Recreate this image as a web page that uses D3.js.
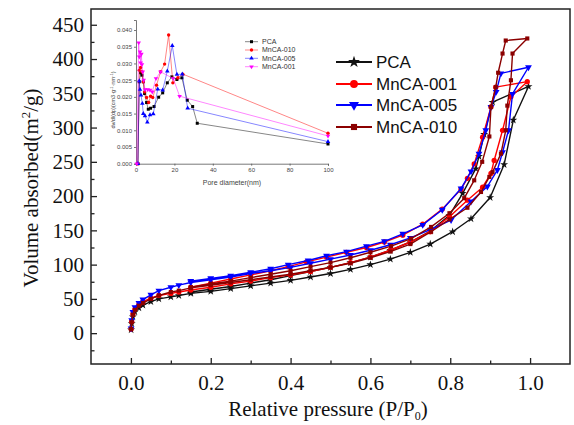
<!DOCTYPE html>
<html>
<head>
<meta charset="utf-8">
<script src="https://cdn.jsdelivr.net/npm/d3@7"></script>
<style>
  body { margin: 0; background: #fff; }
  svg { display: block; }
</style>
</head>
<body>
<div id="content"></div>
<script>
// Isotherms: [P/P0, volume] -- adsorption branch going up, then desorption going back.
var seriesNames = ["PCA", "MnCA-001", "MnCA-005", "MnCA-010"];
var seriesColors = ["#111111", "#ff0000", "#0000ff", "#8b0000"];

var pcaIsotherm = [
  [0.0005, 5], [0.002, 14], [0.005, 24], [0.01, 31], [0.02, 37], [0.03, 41], [0.05, 46],
  [0.07, 50], [0.1, 53], [0.12, 55], [0.15, 58], [0.2, 61], [0.25, 65], [0.3, 69],
  [0.35, 73], [0.4, 77], [0.45, 82], [0.5, 87], [0.55, 93], [0.6, 100], [0.65, 108],
  [0.7, 118], [0.75, 130], [0.806, 148], [0.852, 167], [0.9, 198], [0.935, 246],
  [0.958, 311], [0.996, 360],
  [0.906, 337], [0.885, 290], [0.872, 258], [0.864, 240], [0.831, 204], [0.798, 172],
  [0.75, 149], [0.7, 133], [0.65, 121], [0.6, 111], [0.55, 103], [0.5, 96], [0.45, 90],
  [0.4, 84], [0.35, 78], [0.3, 73], [0.25, 68], [0.2, 64], [0.15, 60]
];
var mnca001Isotherm = [
  [0.0005, 6], [0.002, 17], [0.005, 28], [0.01, 35], [0.02, 42], [0.03, 46], [0.05, 51],
  [0.07, 55], [0.1, 58], [0.12, 60], [0.15, 63], [0.2, 67], [0.25, 72], [0.3, 76],
  [0.35, 81], [0.4, 85], [0.45, 90], [0.5, 96], [0.55, 103], [0.6, 111], [0.65, 121],
  [0.7, 133], [0.75, 148], [0.798, 170], [0.843, 194], [0.881, 213], [0.902, 233],
  [0.91, 252], [0.931, 296], [0.952, 345], [0.993, 367],
  [0.914, 359], [0.902, 330], [0.881, 286], [0.86, 247], [0.843, 226], [0.827, 210],
  [0.78, 181], [0.731, 159], [0.681, 143], [0.635, 133], [0.59, 125], [0.54, 118],
  [0.49, 111], [0.44, 104], [0.394, 97], [0.35, 91], [0.3, 85], [0.25, 79], [0.2, 73],
  [0.15, 67]
];
var mnca005Isotherm = [
  [0.0005, 7], [0.002, 19], [0.005, 31], [0.01, 38], [0.02, 44], [0.03, 49], [0.05, 56],
  [0.07, 62], [0.1, 67], [0.12, 70], [0.15, 74], [0.2, 78], [0.25, 82], [0.3, 87],
  [0.35, 91], [0.4, 96], [0.45, 102], [0.5, 108], [0.55, 114], [0.6, 121], [0.65, 129],
  [0.7, 139], [0.75, 151], [0.802, 165], [0.852, 192], [0.893, 214], [0.918, 238],
  [0.931, 264], [0.946, 296], [0.956, 349], [0.996, 388],
  [0.927, 379], [0.915, 352], [0.902, 330], [0.889, 296], [0.872, 262], [0.852, 236],
  [0.827, 211], [0.78, 180], [0.731, 158], [0.681, 145], [0.635, 134], [0.59, 127],
  [0.54, 119], [0.49, 113], [0.444, 106], [0.394, 100], [0.35, 94], [0.3, 89],
  [0.25, 84], [0.2, 80], [0.15, 76]
];
var mnca010Isotherm = [
  [0.0005, 6], [0.002, 16], [0.005, 27], [0.01, 34], [0.02, 40], [0.03, 44], [0.05, 50],
  [0.07, 55], [0.1, 60], [0.12, 62], [0.15, 66], [0.2, 70], [0.25, 74], [0.3, 78],
  [0.35, 82], [0.4, 86], [0.45, 91], [0.5, 96], [0.55, 102], [0.6, 110], [0.65, 119],
  [0.7, 130], [0.752, 148], [0.798, 166], [0.843, 183], [0.877, 206], [0.898, 228],
  [0.906, 235], [0.927, 262], [0.939, 296], [0.943, 332], [0.952, 369], [0.956, 408],
  [0.993, 430],
  [0.939, 427], [0.931, 408], [0.92, 380], [0.914, 359], [0.902, 330], [0.898, 287],
  [0.88, 250], [0.86, 223], [0.835, 197], [0.798, 175], [0.752, 155], [0.702, 138],
  [0.652, 127], [0.6, 118], [0.55, 110], [0.5, 103], [0.45, 97], [0.4, 91], [0.35, 86],
  [0.3, 81], [0.25, 76], [0.2, 72], [0.15, 67]
];
var isotherms = [pcaIsotherm, mnca001Isotherm, mnca005Isotherm, mnca010Isotherm];

var xMajorTicks = [0, 0.2, 0.4, 0.6, 0.8, 1.0];
var xMinorTicks = [0.1, 0.3, 0.5, 0.7, 0.9];
var yMajorTicks = [0, 50, 100, 150, 200, 250, 300, 350, 400, 450];
var yMinorTicks = [-25, 25, 75, 125, 175, 225, 275, 325, 375, 425];

// Inset: pore size distribution [diameter nm, dV/dD]
var insetNames = ["PCA", "MnCA-010", "MnCA-005", "MnCA-001"];
var insetColors = ["#000000", "#ff0000", "#0000ff", "#ff00ff"];
var pcaPores = [
  [1.0, 0], [1.7, 0.0245], [2.4, 0.0272], [3.1, 0.0265], [3.8, 0.0245], [4.5, 0.021],
  [5.5, 0.0183], [6.4, 0.0163], [7.6, 0.0166], [9.4, 0.0171], [11.8, 0.0199],
  [13.9, 0.0212], [16.3, 0.0242], [18.7, 0.026], [21.3, 0.0252], [23.9, 0.0257],
  [26.7, 0.019], [29.5, 0.0171], [31.9, 0.0121], [100, 0.0059]
];
var mnca010Pores = [
  [1.0, 0], [1.7, 0.028], [2.4, 0.0288], [3.1, 0.0275], [3.8, 0.0245], [4.5, 0.0215],
  [5.5, 0.0198], [6.6, 0.0183], [7.6, 0.0202], [8.7, 0.0198], [10.7, 0.0235],
  [12.8, 0.0275], [14.9, 0.0298], [17.0, 0.0385], [19.2, 0.0242], [21.8, 0.0257],
  [24.4, 0.0268], [100, 0.0091]
];
var mnca005Pores = [
  [1.0, 0], [1.7, 0.0248], [2.1, 0.0222], [2.6, 0.0205], [3.3, 0.018], [3.8, 0.015],
  [4.7, 0.0143], [5.9, 0.0124], [7.3, 0.0146], [9.0, 0.0149], [11.3, 0.0223],
  [13.9, 0.022], [16.3, 0.0277], [18.9, 0.0353], [21.3, 0.0267], [24.1, 0.0268],
  [26.9, 0.0166], [100, 0.0066]
];
var mnca001Pores = [
  [0.4, 0], [1.4, 0.0362], [1.7, 0.032], [2.1, 0.0335], [2.4, 0.0302], [2.8, 0.0328],
  [3.1, 0.0297], [3.5, 0.0275], [4.0, 0.025], [4.7, 0.0222], [6.1, 0.0222],
  [7.3, 0.022], [8.5, 0.0215], [10.4, 0.0255], [12.8, 0.0275], [19.4, 0.0255],
  [22.7, 0.0202], [100, 0.0083]
];
var insetSeries = [pcaPores, mnca010Pores, mnca005Pores, mnca001Pores];
var insetYTicks = [0, 0.005, 0.01, 0.015, 0.02, 0.025, 0.03, 0.035, 0.04];
var insetXTicks = [0, 20, 40, 60, 80, 100];

// ---- main svg ----
var W = 574, H = 425;
var svg = d3.select('#content').append('svg').attr('width', W).attr('height', H);
var serif = '"Liberation Serif", "Times New Roman", serif';
var sans = '"Liberation Sans", Arial, sans-serif';

var plot = {left: 91, right: 570, top: 9, bottom: 364};
var x = d3.scaleLinear().domain([-0.1, 1.1]).range([plot.left, plot.right]);
var y = d3.scaleLinear().domain([-45, 473]).range([plot.bottom, plot.top]);

// symbol helpers
function mainSymbol(i) {
  return [d3.symbolStar, d3.symbolCircle, d3.symbolTriangle, d3.symbolSquare][i];
}
var mainSymbolSize = [20, 22, 20, 17];
var mainSymbolRotate = [0, 0, 180, 0];

// frame
svg.append('rect')
    .attr('x', plot.left).attr('y', plot.top)
    .attr('width', plot.right - plot.left).attr('height', plot.bottom - plot.top)
    .attr('fill', 'none').attr('stroke', '#222').attr('stroke-width', 1.5);

// Y axis, ticks pointing in
var yAxisG = svg.append('g').attr('transform', 'translate(' + plot.left + ',0)');
yAxisG.call(d3.axisLeft(y).tickValues(yMajorTicks).tickSize(-6).tickPadding(7));
yAxisG.append('g').call(d3.axisLeft(y).tickValues(yMinorTicks).tickSize(-3.5).tickFormat(''));
yAxisG.selectAll('.domain').remove();

var xAxisG = svg.append('g').attr('transform', 'translate(0,' + plot.bottom + ')');
xAxisG.call(d3.axisBottom(x).tickValues(xMajorTicks).tickSize(-6).tickPadding(11)
    .tickFormat(d3.format('.1f')));
xAxisG.append('g').call(d3.axisBottom(x).tickValues(xMinorTicks).tickSize(-3.5).tickFormat(''));
xAxisG.selectAll('.domain').remove();

svg.selectAll('.tick line').attr('stroke', '#222').attr('stroke-width', 1.3);
svg.selectAll('.tick text').attr('font-family', serif).attr('font-size', 21).attr('fill', '#111');

// axis titles
var yTitle = svg.append('text')
    .attr('transform', 'translate(38,' + 188 + ') rotate(-90)')
    .attr('text-anchor', 'middle')
    .attr('font-family', serif).attr('font-size', 21).attr('fill', '#111');
yTitle.append('tspan').text('Volume absorbed(m');
yTitle.append('tspan').attr('font-size', 13).attr('dy', -8).text('2');
yTitle.append('tspan').attr('dy', 8).text('/g)');

var xTitle = svg.append('text')
    .attr('x', 328).attr('y', 416)
    .attr('text-anchor', 'middle')
    .attr('font-family', serif).attr('font-size', 21).attr('fill', '#111');
xTitle.append('tspan').text('Relative pressure (P/P');
xTitle.append('tspan').attr('font-size', 12).attr('dy', 4).text('0');
xTitle.append('tspan').attr('dy', -4).text(')');

// curves
var line = d3.line().x(function(d) { return x(d[0]); }).y(function(d) { return y(d[1]); });
isotherms.forEach(function(data, i) {
  var g = svg.append('g');
  g.append('path').datum(data)
      .attr('d', line)
      .attr('fill', 'none')
      .attr('stroke', seriesColors[i])
      .attr('stroke-width', 1.4)
      .attr('stroke-linejoin', 'round');
  g.selectAll('path.pt').data(data).enter().append('path')
      .attr('class', 'pt')
      .attr('d', d3.symbol().type(mainSymbol(i)).size(mainSymbolSize[i]))
      .attr('transform', function(d) {
        return 'translate(' + x(d[0]) + ',' + y(d[1]) + ') rotate(' + mainSymbolRotate[i] + ')';
      })
      .attr('fill', seriesColors[i]);
});

// main legend
var legendY = [62, 84, 105, 127];
seriesNames.forEach(function(name, i) {
  var ly = legendY[i];
  svg.append('line').attr('x1', 336).attr('x2', 372).attr('y1', ly).attr('y2', ly)
      .attr('stroke', seriesColors[i]).attr('stroke-width', 2);
  svg.append('path')
      .attr('d', d3.symbol().type(mainSymbol(i)).size(mainSymbolSize[i] * 2.2))
      .attr('transform', 'translate(354,' + ly + ') rotate(' + mainSymbolRotate[i] + ')')
      .attr('fill', seriesColors[i]);
  svg.append('text').attr('x', 376).attr('y', ly).attr('dy', '0.35em')
      .attr('font-family', sans).attr('font-size', 17).attr('fill', '#111')
      .text(name);
});

// ---- inset ----
var inset = {left: 136, right: 328, top: 20, bottom: 163.7};
var ix = d3.scaleLinear().domain([0, 100]).range([inset.left, inset.right]);
var iy = d3.scaleLinear().domain([0, 0.043]).range([inset.bottom, inset.top]);
var ig = svg.append('g');

ig.append('g').attr('transform', 'translate(' + inset.left + ',0)')
    .call(d3.axisLeft(iy).tickValues(insetYTicks).tickSize(2).tickPadding(2)
        .tickFormat(d3.format('.3f')));
ig.append('g').attr('transform', 'translate(0,' + inset.bottom + ')')
    .call(d3.axisBottom(ix).tickValues(insetXTicks).tickSize(2).tickPadding(2));
ig.selectAll('.domain').attr('stroke', '#555').attr('stroke-width', 0.8);
ig.selectAll('.tick line').attr('stroke', '#555').attr('stroke-width', 0.8);
ig.selectAll('.tick text').attr('font-family', sans).attr('font-size', 6).attr('fill', '#444');

ig.append('text').attr('x', 232).attr('y', 185)
    .attr('text-anchor', 'middle').attr('font-family', sans).attr('font-size', 7)
    .attr('fill', '#444').text('Pore diameter(nm)');

var iyTitle = ig.append('text')
    .attr('transform', 'translate(115,100) rotate(-90)')
    .attr('text-anchor', 'middle').attr('font-family', sans).attr('font-size', 5.5)
    .attr('fill', '#444');
iyTitle.append('tspan').text('dv/dl(dp)(cm3\u00b7g');
iyTitle.append('tspan').attr('font-size', 4).attr('dy', -2).text('-1');
iyTitle.append('tspan').attr('dy', 2).text('\u00b7nm');
iyTitle.append('tspan').attr('font-size', 4).attr('dy', -2).text('-1');
iyTitle.append('tspan').attr('dy', 2).text(')');

function insetSymbol(i) {
  return [d3.symbolSquare, d3.symbolCircle, d3.symbolTriangle, d3.symbolTriangle][i];
}
var insetRotate = [0, 0, 0, 180];
var iline = d3.line().x(function(d) { return ix(d[0]); }).y(function(d) { return iy(d[1]); });

insetSeries.forEach(function(data, i) {
  var g = ig.append('g');
  g.append('path').datum(data)
      .attr('d', iline)
      .attr('fill', 'none')
      .attr('stroke', insetColors[i])
      .attr('stroke-opacity', 0.6)
      .attr('stroke-width', 0.8);
  g.selectAll('path.pt').data(data).enter().append('path')
      .attr('class', 'pt')
      .attr('d', d3.symbol().type(insetSymbol(i)).size(9))
      .attr('transform', function(d) {
        return 'translate(' + ix(d[0]) + ',' + iy(d[1]) + ') rotate(' + insetRotate[i] + ')';
      })
      .attr('fill', insetColors[i]);
});

var insetLegendY = [41.7, 50, 58.3, 66.7];
insetNames.forEach(function(name, i) {
  var ly = insetLegendY[i];
  ig.append('line').attr('x1', 245).attr('x2', 258).attr('y1', ly).attr('y2', ly)
      .attr('stroke', insetColors[i]).attr('stroke-opacity', 0.6).attr('stroke-width', 0.8);
  ig.append('path')
      .attr('d', d3.symbol().type(insetSymbol(i)).size(9))
      .attr('transform', 'translate(251.5,' + ly + ') rotate(' + insetRotate[i] + ')')
      .attr('fill', insetColors[i]);
  ig.append('text').attr('x', 262).attr('y', ly).attr('dy', '0.35em')
      .attr('font-family', sans).attr('font-size', 7).attr('fill', '#333')
      .text(name);
});
</script>
</body>
</html>
